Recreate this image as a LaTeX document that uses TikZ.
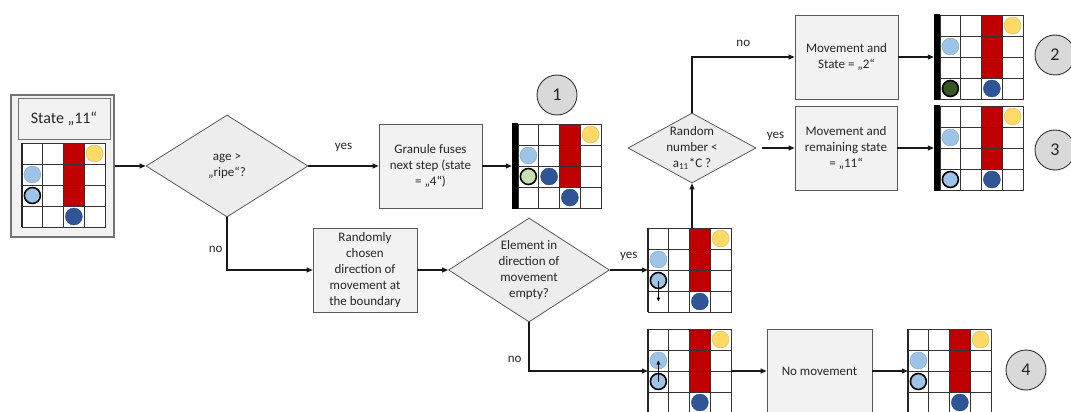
\documentclass[tikz,border=0pt]{standalone}
\usepackage{fontspec}
\setmainfont{Carlito}
\usetikzlibrary{arrows.meta, positioning, calc, shapes.geometric}
\definecolor{cagray}{HTML}{595959}
\definecolor{caink}{HTML}{262626}
\definecolor{cafill}{HTML}{F2F2F2}
\definecolor{cadiam}{HTML}{EDEDED}
\definecolor{caring}{HTML}{D9D9D9}
\definecolor{cared}{HTML}{C00000}
\definecolor{cayellow}{HTML}{FFD966}
\definecolor{calight}{HTML}{9DC3E6}
\definecolor{cadark}{HTML}{2F5597}
\definecolor{cagreen}{HTML}{C5E0B4}
\definecolor{caforest}{HTML}{375623}

% 4x4 board with its wall column; #1 name, (#2,#3) north west corner
\newcommand{\board}[3]{%
    \begin{scope}[shift={(#2,#3)}, x=20.75pt, y=-21pt]
        \fill[white] (0,0) rectangle (4,4);
        \fill[cared] (2,0) rectangle (3,3);
        \foreach \k in {1,2,3} {
            \draw[gridline] (\k,0) -- (\k,4);
            \draw[gridline] (0,\k) -- (4,\k);
        }
        \draw[gridline] (0,0) rectangle (4,4);
        \foreach \col in {0,...,3}
            \foreach \row in {0,...,3}
                \coordinate (#1-\col-\row) at (\col+0.5,\row+0.5);
        \node[boardframe] (#1) at (2,2) {};
    \end{scope}}
% thick boundary bar on the left of a board
\newcommand{\boundary}[1]{%
    \fill[black] ([xshift=-6pt, yshift=1pt]#1.north west) rectangle ([yshift=-1pt]#1.south west);}
% plain left edge
\newcommand{\edgeline}[1]{%
    \draw[line width=1.6pt, black!85] (#1.north west) -- (#1.south west);}

\begin{document}
\begin{tikzpicture}[
    x=1pt, y=-1pt,
    >={Triangle[length=6pt, width=5pt]},
    font=\fontsize{13}{16}\selectfont,
    process/.style={
        draw=cagray, fill=cafill, line width=0.8pt, align=center,
        minimum width=103pt, minimum height=84pt, inner sep=2pt,
        text=caink
    },
    decision/.style={
        diamond, draw=cagray, fill=cadiam, line width=0.8pt,
        align=center, inner sep=-8pt, text=caink
    },
    marker/.style={
        circle, draw=black!80, fill=caring, line width=0.9pt,
        minimum size=40pt, inner sep=0pt, text=caink,
        font=\fontsize{18}{20}\selectfont
    },
    boardframe/.style={inner sep=0pt, minimum width=83pt, minimum height=84pt},
    gridline/.style={draw=black!80, line width=0.7pt},
    flow/.style={->, line width=1.1pt, draw=black!90},
    nudge/.style={-{Triangle[length=4pt, width=3.5pt]}, line width=0.9pt, draw=black},
    answer/.style={text=caink, inner sep=2pt},
    ripe/.style={fill=cayellow, draw=cayellow!85!black, line width=0.4pt},
    free/.style={fill=calight, draw=calight!85!black, line width=0.4pt},
    mover/.style={fill=calight, draw=black, line width=1.6pt},
    fused/.style={fill=cagreen, draw=black, line width=1.6pt},
    forest/.style={fill=caforest, draw=black, line width=1.6pt},
    settled/.style={fill=cadark, draw=cadark!85!black, line width=0.4pt},
]
\useasboundingbox (0,0) rectangle (1071,412);
\clip (0,0) rectangle (1071,412);

% ===================================================================
% START STATE
% ===================================================================
\node[process, draw=black!55, line width=1.2pt, minimum height=142pt] (start) at (62.5,166) {};
\node[process, draw=black!55, minimum width=92pt, minimum height=41pt,
      font=\fontsize{16}{18}\selectfont] (title) at (64,119) {State „11“};
\board{g0}{22}{143}
\edgeline{g0}
\path[ripe] (g0-3-0) circle (8.5pt);
\path[free] (g0-0-1) circle (8.5pt);
\path[mover] (g0-0-2) circle (8pt);
\path[settled] (g0-2-3) circle (8.5pt);

% ===================================================================
% DECISIONS AND STEPS
% ===================================================================
\node[decision, minimum width=162pt, minimum height=102pt] (d1) at (227,166)
    {age >\\„ripe“?};
\node[process] (granule) at (430.5,166) {Granule fuses\\next step (state\\= „4“)};
\node[process, minimum width=104pt] (random) at (365,270)
    {Randomly\\chosen\\direction of\\movement at\\the boundary};
\node[decision, minimum width=161pt, minimum height=104pt] (d2) at (529,270)
    {Element in\\direction of\\movement\\empty?};
\node[decision, minimum width=128pt, minimum height=70pt] (d3) at (692,148)
    {Random\\number <\\a\textsubscript{11}*C ?};
\node[process] (move2) at (846.5,57) {Movement and\\State = „2“};
\node[process, minimum width=102pt] (move11) at (846,148)
    {Movement and\\remaining state\\= „11“};
\node[process, minimum width=105pt] (nomove) at (819.5,371) {No movement};

% ===================================================================
% RESULT BOARDS
% ===================================================================
% fused granule
\board{g1}{518}{124}
\boundary{g1}
\path[ripe] (g1-3-0) circle (8.5pt);
\path[free] (g1-0-1) circle (8.5pt);
\path[fused] (g1-0-2) circle (8pt);
\path[settled] (g1-1-2) circle (8.5pt);
\path[settled] (g1-2-3) circle (8.5pt);
\node[marker] (m1) at (557,95) {1};

% free move downwards
\board{g4}{648}{228}
\edgeline{g4}
\path[ripe] (g4-3-0) circle (8.5pt);
\path[free] (g4-0-1) circle (8.5pt);
\path[mover] (g4-0-2) circle (8pt);
\path[settled] (g4-2-3) circle (8.5pt);
\draw[nudge] (g4-0-2) -- (g4-0-3);

% blocked move upwards
\board{g5}{648}{329}
\edgeline{g5}
\path[ripe] (g5-3-0) circle (8.5pt);
\path[free] (g5-0-1) circle (8.5pt);
\path[mover] (g5-0-2) circle (8pt);
\path[settled] (g5-2-3) circle (8.5pt);
\draw[nudge] (g5-0-2) -- (g5-0-1);

% state 2
\board{g2}{940}{15}
\boundary{g2}
\path[ripe] (g2-3-0) circle (8.5pt);
\path[free] (g2-0-1) circle (8.5pt);
\path[forest] (g2-0-3) circle (8pt);
\path[settled] (g2-2-3) circle (8.5pt);
\node[marker] (m2) at (1055,55) {2};

% state 11 kept
\board{g3}{940}{106}
\boundary{g3}
\path[ripe] (g3-3-0) circle (8.5pt);
\path[free] (g3-0-1) circle (8.5pt);
\path[mover] (g3-0-3) circle (8pt);
\path[settled] (g3-2-3) circle (8.5pt);
\node[marker] (m3) at (1055,150) {3};

% no movement
\board{g6}{908}{329}
\edgeline{g6}
\path[ripe] (g6-3-0) circle (8.5pt);
\path[free] (g6-0-1) circle (8.5pt);
\path[mover] (g6-0-2) circle (8pt);
\path[settled] (g6-2-3) circle (8.5pt);
\node[marker] (m4) at (1026,370) {4};

% ===================================================================
% CONNECTORS
% ===================================================================
\draw[flow] (start) -- (d1);
\draw[flow] (d1) -- node[answer, above=12pt] {yes} (granule);
\draw[flow] (d1.south) |- node[answer, pos=0.3, left=2pt] {no} (random.west);
\draw[flow] (granule) -- ([xshift=-6pt]g1.west);
\draw[flow] (random) -- (d2);
\draw[flow] (d2) -- node[answer, above=7pt] {yes} (g4);
\draw[flow] (d2.south) |- node[answer, pos=0.38, left=5pt] {no} (g5.west);
\draw[flow] (d3.south |- g4.north) -- (d3.south);
\draw[flow] (d3.north) |- node[answer, pos=0.75, above=8pt] {no} (move2.west);
\draw[flow, shorten <=6pt] (d3.east) -- node[answer, above=5pt] {yes} (move11.west);
\draw[flow] (move2) -- ([xshift=-6pt]g2.west);
\draw[flow] (move11) -- ([xshift=-6pt]g3.west);
\draw[flow] (g5) -- (nomove);
\draw[flow] (nomove) -- (g6);

\end{tikzpicture}
\end{document}
